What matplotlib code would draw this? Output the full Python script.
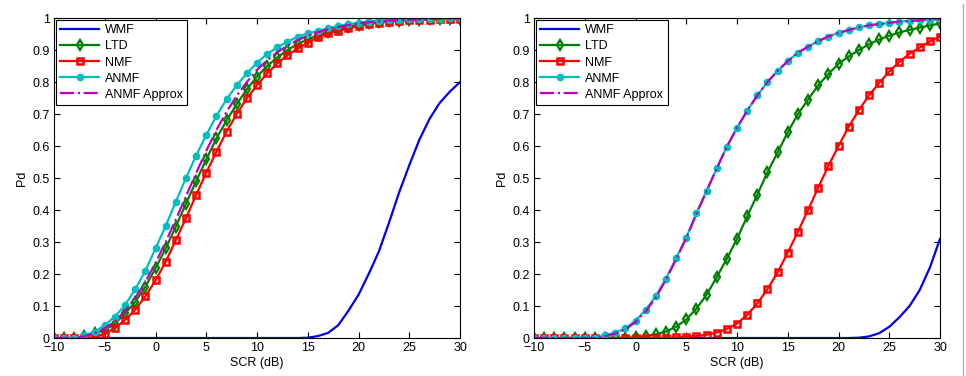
import numpy as np
import matplotlib.pyplot as plt
from matplotlib.lines import Line2D

plt.rcParams['font.family'] = ['Liberation Sans', 'DejaVu Sans']
plt.rcParams['font.size'] = 9

SCR = np.arange(-10, 31)  # dB, one marker per dB

# ---- left panel ----
WMF_L = [0]*25 + [0.001, 0.006, 0.016, 0.04, 0.085, 0.135, 0.2, 0.27,
                  0.36, 0.455, 0.54, 0.62, 0.685, 0.735, 0.77, 0.80]
LTD_L = [0, 0, 0, 0.005, 0.015, 0.025, 0.045, 0.077, 0.113, 0.16, 0.218,
         0.28, 0.348, 0.42, 0.49, 0.558, 0.624, 0.68, 0.731, 0.777, 0.817,
         0.85, 0.877, 0.9, 0.919, 0.933, 0.947, 0.957, 0.965, 0.973, 0.979,
         0.983, 0.987, 0.99, 0.992, 0.994, 0.995, 0.996, 0.997, 0.998, 0.998]
NMF_L = [0, 0, 0, 0, 0.003, 0.013, 0.032, 0.056, 0.088, 0.13, 0.18,
         0.238, 0.306, 0.374, 0.447, 0.517, 0.582, 0.645, 0.7, 0.749, 0.79,
         0.827, 0.858, 0.884, 0.905, 0.923, 0.94, 0.952, 0.96, 0.968, 0.975,
         0.981, 0.985, 0.989, 0.991, 0.993, 0.994, 0.995, 0.996, 0.997, 0.997]
ANMF_L = [0, 0, 0, 0.008, 0.02, 0.04, 0.067, 0.103, 0.152, 0.21, 0.28,
          0.35, 0.426, 0.5, 0.57, 0.634, 0.694, 0.746, 0.79, 0.827, 0.86,
          0.888, 0.908, 0.926, 0.942, 0.952, 0.96, 0.968, 0.975, 0.981, 0.985,
          0.989, 0.992, 0.994, 0.995, 0.996, 0.997, 0.998, 0.998, 0.999, 0.999]
APPROX_L = [0, 0, 0, 0.005, 0.015, 0.03, 0.052, 0.085, 0.125, 0.175, 0.235,
            0.3, 0.37, 0.443, 0.515, 0.585, 0.65, 0.707, 0.757, 0.8, 0.838,
            0.868, 0.893, 0.914, 0.931, 0.945, 0.956, 0.965, 0.972, 0.978, 0.983,
            0.987, 0.99, 0.992, 0.994, 0.995, 0.996, 0.997, 0.998, 0.998, 0.999]

# ---- right panel ----
WMF_R = [0]*32 + [0.001, 0.005, 0.015, 0.035, 0.065, 0.10, 0.15, 0.22, 0.31]
LTD_R = [0]*10 + [0.003, 0.006, 0.012, 0.02, 0.035, 0.058, 0.092, 0.135,
                  0.19, 0.248, 0.31, 0.38, 0.448, 0.518, 0.58, 0.643, 0.7,
                  0.745, 0.79, 0.825, 0.857, 0.88, 0.9, 0.918, 0.933, 0.945,
                  0.955, 0.963, 0.97, 0.977, 0.983]
NMF_R = [0]*14 + [0.002, 0.004, 0.006, 0.01, 0.017, 0.028, 0.045, 0.072,
                  0.108, 0.153, 0.205, 0.267, 0.332, 0.4, 0.47, 0.538, 0.6,
                  0.66, 0.712, 0.758, 0.797, 0.833, 0.863, 0.888, 0.908, 0.927,
                  0.942]
ANMF_R = [0]*7 + [0.008, 0.017, 0.03, 0.054, 0.088, 0.131, 0.186, 0.249,
                  0.314, 0.39, 0.46, 0.53, 0.598, 0.657, 0.71, 0.758, 0.8,
                  0.835, 0.865, 0.892, 0.91, 0.928, 0.942, 0.954, 0.962, 0.971,
                  0.977, 0.981, 0.985, 0.989, 0.991, 0.993, 0.995, 0.997]
APPROX_R = [0]*7 + [0.006, 0.014, 0.027, 0.05, 0.083, 0.126, 0.182, 0.246,
                    0.312, 0.388, 0.459, 0.53, 0.598, 0.657, 0.71, 0.758, 0.8,
                    0.835, 0.865, 0.892, 0.91, 0.928, 0.942, 0.954, 0.962, 0.971,
                    0.977, 0.981, 0.985, 0.989, 0.991, 0.993, 0.995, 0.997]

fig = plt.figure(figsize=(9.66, 3.76), dpi=100)
ax1 = fig.add_axes([0.0559, 0.101, 0.4203, 0.851])
ax2 = fig.add_axes([0.5528, 0.101, 0.4203, 0.851])


def draw(ax, wmf, ltd, nmf, anmf, approx):
    lw = 1.6
    ax.plot(SCR, wmf, color='#0000ee', lw=lw, label='WMF')
    ax.plot(SCR, ltd, color='#008000', lw=lw, marker='d', ms=5,
            mfc='none', mew=1.6, label='LTD')
    ax.plot(SCR, nmf, color='#ff0000', lw=lw, marker='s', ms=4.3,
            mfc='none', mew=1.8, label='NMF')
    ax.plot(SCR, anmf, color='#00bfbf', lw=lw, marker='o', ms=4.5,
            mfc='#00bfbf', mew=1, label='ANMF')
    ax.plot(SCR, approx, color='#bf00bf', lw=lw, ls='-.', label='ANMF Approx')
    ax.set_xlim(-10, 30)
    ax.set_ylim(0, 1)
    ax.set_xticks(np.arange(-10, 31, 5))
    ax.set_xticklabels(['\u221210', '\u22125', '0', '5', '10', '15', '20', '25', '30'])
    ax.set_yticks(np.arange(0, 1.01, 0.1))
    ax.set_yticklabels(['0'] + ['%.1f' % v for v in np.arange(0.1, 0.95, 0.1)] + ['1'])
    ax.tick_params(direction='in', top=True, right=True, length=4, width=0.8,
                   labelsize=9, pad=3)
    for s in ax.spines.values():
        s.set_linewidth(0.8)
    ax.set_xlabel('SCR (dB)', fontsize=9, labelpad=2)
    ax.set_ylabel('Pd', fontsize=9, labelpad=3)
    leg = ax.legend(loc='upper left', fontsize=9, handlelength=3.1,
                    borderaxespad=0.15, labelspacing=0.33, handletextpad=0.5,
                    fancybox=False, edgecolor='black', framealpha=1,
                    borderpad=0.35)
    leg.get_frame().set_linewidth(0.8)


draw(ax1, WMF_L, LTD_L, NMF_L, ANMF_L, APPROX_L)
draw(ax2, WMF_R, LTD_R, NMF_R, ANMF_R, APPROX_R)

# thin grey page border at the right edge
fig.add_artist(Line2D([0.9965, 0.9965], [0.0, 0.99], transform=fig.transFigure,
                      color='#b0b0b0', lw=1))

fig.savefig('out.png', dpi=100)
